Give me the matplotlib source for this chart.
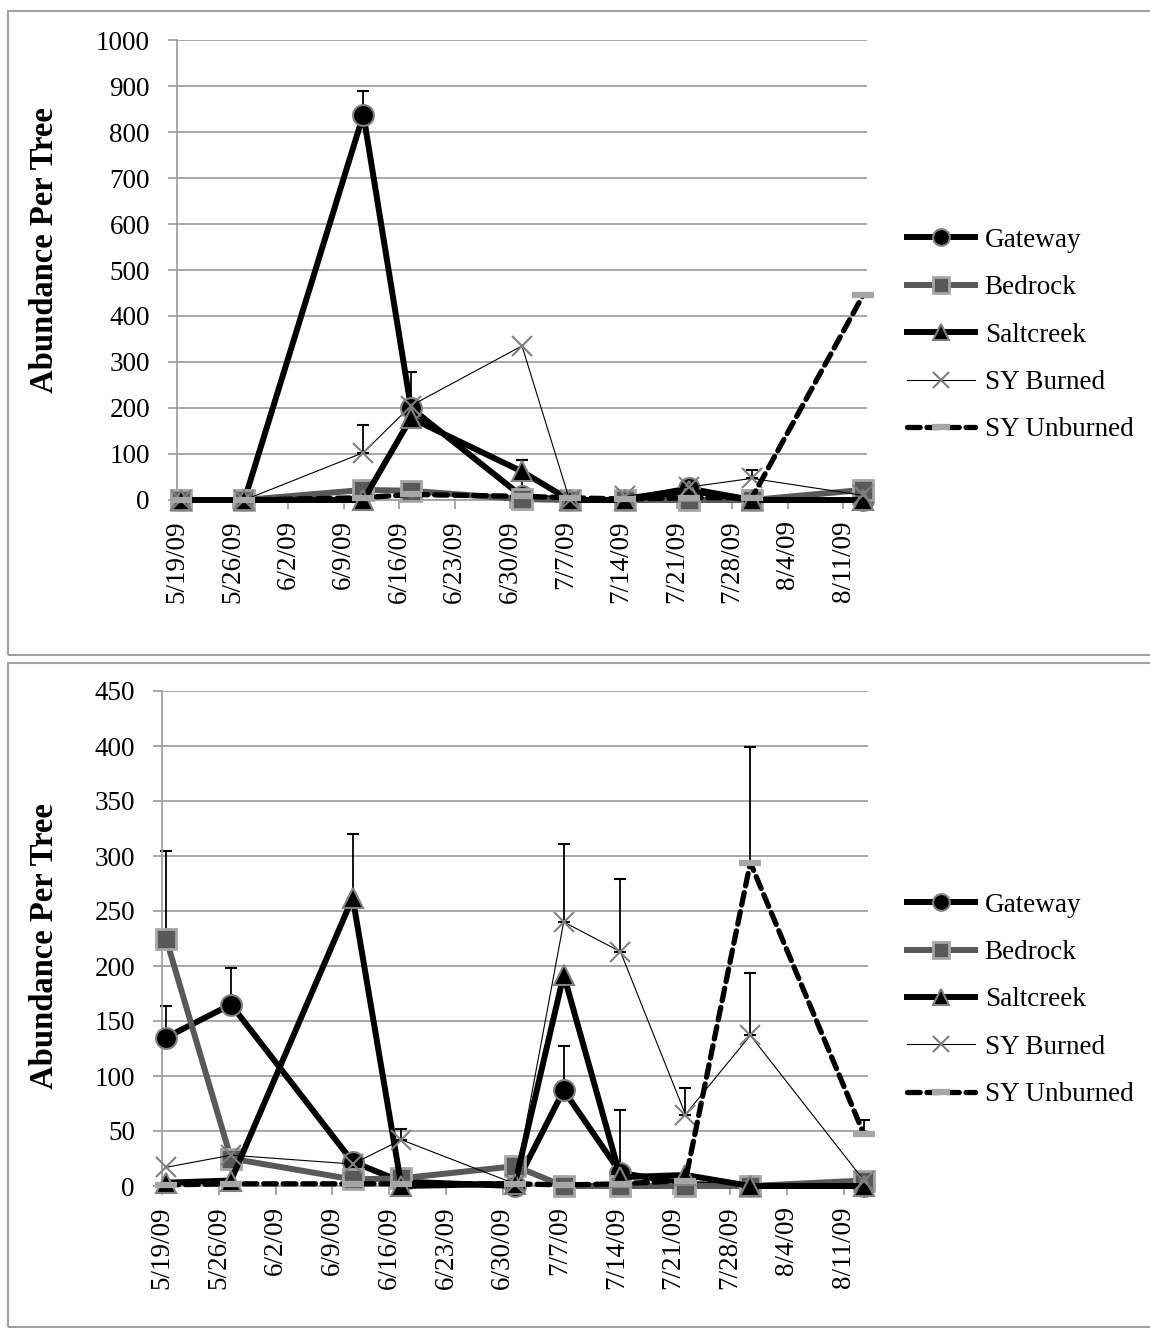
import matplotlib
matplotlib.use('Agg')
import matplotlib.pyplot as plt
import matplotlib.dates as mdates
import numpy as np
import pandas as pd
from matplotlib.patches import Rectangle

# ---------------- data ----------------
dates = ['2009-05-19', '2009-05-27', '2009-06-11', '2009-06-17', '2009-07-01',
         '2009-07-07', '2009-07-14', '2009-07-22', '2009-07-30', '2009-08-13']
tick_dates = ['2009-05-19', '2009-05-26', '2009-06-02', '2009-06-09', '2009-06-16',
              '2009-06-23', '2009-06-30', '2009-07-07', '2009-07-14', '2009-07-21',
              '2009-07-28', '2009-08-04', '2009-08-11']
tick_labels = ['5/19/09', '5/26/09', '6/2/09', '6/9/09', '6/16/09', '6/23/09', '6/30/09',
               '7/7/09', '7/14/09', '7/21/09', '7/28/09', '8/4/09', '8/11/09']
series_names = ['Gateway', 'Bedrock', 'Saltcreek', 'SY Burned', 'SY Unburned']

# top panel
top_gateway = [0, 0, 838, 200, 8, 0, 0, 25, 0, 0]
top_bedrock = [0, 0, 22, 20, 2, 0, 0, 0, 0, 22]
top_saltcreek = [0, 0, 0, 178, 62, 0, 0, 20, 0, 0]
top_sy_burned = [0, 0, 103, 205, 335, 0, 8, 28, 47, 10]
top_sy_unburned = [0, 0, 5, 12, 8, 5, 2, 5, 5, 445]
top_gateway_err = [0, 0, 51, 0, 80, 0, 0, 0, 0, 0]
top_bedrock_err = [0, 0, 0, 0, 0, 0, 0, 0, 0, 0]
top_saltcreek_err = [0, 0, 0, 0, 26, 0, 0, 0, 0, 0]
top_sy_burned_err = [0, 0, 60, 73, 0, 0, 0, 0, 18, 0]
top_sy_unburned_err = [0, 0, 0, 0, 0, 0, 0, 0, 0, 0]

# bottom panel
bot_gateway = [135, 165, 22, 4, 0, 87, 12, 2, 0, 0]
bot_bedrock = [225, 25, 6, 7, 18, 0, 0, 0, 0, 5]
bot_saltcreek = [3, 5, 262, 0, 2, 192, 8, 10, 0, 0]
bot_sy_burned = [17, 28, 20, 42, 2, 240, 213, 65, 137, 5]
bot_sy_unburned = [1, 2, 2, 2, 2, 1, 2, 5, 294, 47]
bot_gateway_err = [29, 33, 0, 0, 0, 40, 57, 0, 0, 0]
bot_bedrock_err = [80, 0, 0, 0, 0, 0, 0, 0, 0, 0]
bot_saltcreek_err = [0, 0, 58, 0, 0, 0, 0, 0, 0, 0]
bot_sy_burned_err = [0, 0, 0, 10, 0, 71, 66, 24, 57, 0]
bot_sy_unburned_err = [0, 0, 0, 0, 0, 0, 0, 0, 105, 13]

# ---------------- style ----------------
plt.rcParams['font.family'] = ['Liberation Serif', 'DejaVu Serif']
plt.rcParams['font.size'] = 19.5

GRID = '#a0a0a0'
styles = {
    'Gateway': dict(color='black', lw=4.3, marker='o', ms=15, mfc='black', mec='#808080', mew=1.5),
    'Bedrock': dict(color='#595959', lw=4.3, marker='s', ms=14, mfc='#595959', mec='#a6a6a6', mew=2),
    'Saltcreek': dict(color='black', lw=4.3, marker='^', ms=15, mfc='black', mec='#808080', mew=1.5),
    'SY Burned': dict(color='black', lw=0.8, marker='x', ms=15, mec='#808080', mew=1.5),
    'SY Unburned': dict(color='black', lw=3.8, ls=(0, (2.4, 1.3)), marker='_', ms=16,
                        mec='#a6a6a6', mew=4.5, dash_capstyle='round'),
}

W, H = 1150, 1329
fig = plt.figure(figsize=(W / 100, H / 100), dpi=100)

# panel frames
for (y0, y1) in [(11, 655), (663, 1327)]:
    fig.add_artist(Rectangle((8 / W, 1 - y1 / H), (W - 8) / W + 0.01, (y1 - y0) / H,
                             transform=fig.transFigure, fill=False, ec=GRID, lw=1.5))

x = mdates.date2num(pd.to_datetime(dates)) + 0.5
xt = mdates.date2num(pd.to_datetime(tick_dates))
xmin = mdates.date2num(pd.Timestamp('2009-05-19'))
xmax = mdates.date2num(pd.Timestamp('2009-08-14'))


def draw(ax, vals, errs, ymax, ystep, label_coords, legend_y):
    ax.set_xlim(xmin, xmax)
    ax.set_ylim(0, ymax)
    ax.set_yticks(np.arange(0, ymax + 1, ystep))
    ax.set_xticks(xt)
    ax.set_xticklabels(tick_labels, rotation=90)
    ax.yaxis.grid(True, color=GRID, lw=1.3)
    ax.set_axisbelow(True)
    for s in ['top', 'right']:
        ax.spines[s].set_visible(False)
    for s in ['left', 'bottom']:
        ax.spines[s].set_color(GRID)
        ax.spines[s].set_linewidth(1.3)
    ax.tick_params(axis='y', direction='out', length=6.5, color=GRID, width=1.3, pad=13)
    ax.tick_params(axis='x', direction='out', length=6.5, color=GRID, width=1.3, pad=8)
    handles = []
    for i, name in enumerate(series_names):
        v = np.array(vals[i], dtype=float)
        e = np.array(errs[i], dtype=float)
        m = e > 0
        if m.any():
            ax.errorbar(x[m], v[m], yerr=[np.zeros(m.sum()), e[m]], fmt='none',
                        ecolor='black', elinewidth=1.3, capsize=4, capthick=1.5,
                        zorder=2 + i * 0.1, clip_on=False)
        ln, = ax.plot(x, v, label=name, clip_on=False, zorder=3 + i * 0.1, **styles[name])
        handles.append(ln)
    ax.set_ylabel('Abundance Per Tree', fontweight='bold', fontsize=23.5)
    ax.yaxis.set_label_coords(*label_coords)
    ax.legend(handles=handles, loc='center left', bbox_to_anchor=(907 / W, legend_y),
              bbox_transform=fig.transFigure, frameon=False, borderpad=0, borderaxespad=0,
              handlelength=2.5, handletextpad=0.37, labelspacing=0.83, markerscale=0.8)


ax1 = fig.add_axes([177 / W, 1 - 500 / H, (867 - 177) / W, 460 / H])
draw(ax1,
     [top_gateway, top_bedrock, top_saltcreek, top_sy_burned, top_sy_unburned],
     [top_gateway_err, top_bedrock_err, top_saltcreek_err, top_sy_burned_err, top_sy_unburned_err],
     1000, 100, (-0.17, 0.543), 1 - 335 / H)

ax2 = fig.add_axes([162 / W, 1 - 1186 / H, (868 - 162) / W, 495 / H])
draw(ax2,
     [bot_gateway, bot_bedrock, bot_saltcreek, bot_sy_burned, bot_sy_unburned],
     [bot_gateway_err, bot_bedrock_err, bot_saltcreek_err, bot_sy_burned_err, bot_sy_unburned_err],
     450, 50, (-0.145, 0.485), 1 - 1000 / H)

fig.savefig('out.png', dpi=100)
